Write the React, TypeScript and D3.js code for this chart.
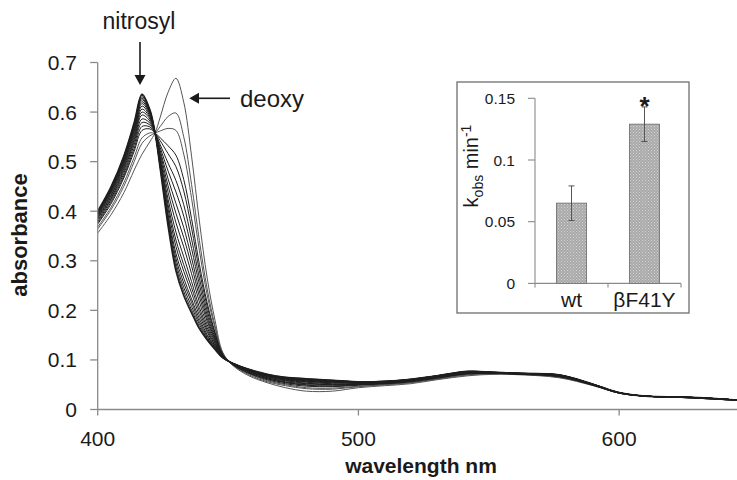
import React from "react";
import * as d3 from "d3";

// wavelength grid (nm) shared by all scans
const wavelengths = [400, 405, 410, 414, 417, 420, 422, 424, 427, 430, 433, 436, 439, 442, 445, 448, 452, 458, 465, 472, 480, 490, 500, 510, 520, 530, 542, 552, 562, 577, 590, 600, 610, 625, 640, 650];

// absorbance readings, first scan (deoxy) to last scan (nitrosyl)
const deoxy = [0.356, 0.392, 0.437, 0.483, 0.515, 0.540, 0.558, 0.590, 0.640, 0.668, 0.620, 0.511, 0.380, 0.265, 0.180, 0.115, 0.088, 0.068, 0.054, 0.044, 0.037, 0.037, 0.044, 0.048, 0.052, 0.060, 0.068, 0.071, 0.070, 0.064, 0.048, 0.033, 0.027, 0.024, 0.020, 0.017];
const scan02 = [0.364, 0.402, 0.450, 0.500, 0.537, 0.552, 0.558, 0.571, 0.591, 0.598, 0.550, 0.454, 0.341, 0.243, 0.169, 0.113, 0.089, 0.070, 0.056, 0.048, 0.042, 0.041, 0.046, 0.050, 0.054, 0.061, 0.070, 0.072, 0.071, 0.065, 0.049, 0.033, 0.027, 0.024, 0.020, 0.017];
const scan03 = [0.368, 0.407, 0.457, 0.509, 0.548, 0.558, 0.558, 0.562, 0.567, 0.563, 0.515, 0.426, 0.321, 0.231, 0.164, 0.112, 0.089, 0.072, 0.058, 0.050, 0.044, 0.043, 0.047, 0.050, 0.054, 0.062, 0.070, 0.072, 0.071, 0.066, 0.049, 0.033, 0.027, 0.024, 0.020, 0.017];
const scan04 = [0.374, 0.414, 0.467, 0.521, 0.563, 0.566, 0.558, 0.548, 0.532, 0.513, 0.464, 0.385, 0.293, 0.215, 0.156, 0.111, 0.090, 0.073, 0.060, 0.052, 0.047, 0.046, 0.049, 0.052, 0.056, 0.063, 0.072, 0.073, 0.071, 0.066, 0.049, 0.033, 0.027, 0.024, 0.020, 0.017];
const scan05 = [0.376, 0.418, 0.471, 0.527, 0.571, 0.570, 0.558, 0.542, 0.516, 0.490, 0.441, 0.366, 0.280, 0.208, 0.153, 0.110, 0.090, 0.074, 0.062, 0.054, 0.049, 0.047, 0.050, 0.052, 0.056, 0.064, 0.072, 0.073, 0.071, 0.067, 0.049, 0.033, 0.027, 0.024, 0.020, 0.017];
const scan06 = [0.379, 0.422, 0.476, 0.534, 0.579, 0.574, 0.558, 0.534, 0.497, 0.462, 0.413, 0.344, 0.265, 0.199, 0.149, 0.109, 0.091, 0.075, 0.062, 0.055, 0.050, 0.049, 0.050, 0.053, 0.057, 0.064, 0.073, 0.073, 0.072, 0.067, 0.050, 0.034, 0.027, 0.025, 0.021, 0.017];
const scan07 = [0.382, 0.425, 0.481, 0.540, 0.586, 0.578, 0.558, 0.528, 0.481, 0.439, 0.390, 0.325, 0.252, 0.191, 0.145, 0.109, 0.091, 0.076, 0.064, 0.056, 0.052, 0.050, 0.051, 0.053, 0.057, 0.065, 0.073, 0.073, 0.072, 0.068, 0.050, 0.034, 0.027, 0.025, 0.021, 0.017];
const scan08 = [0.385, 0.428, 0.485, 0.545, 0.594, 0.582, 0.558, 0.522, 0.465, 0.416, 0.367, 0.306, 0.239, 0.184, 0.142, 0.108, 0.091, 0.077, 0.064, 0.058, 0.053, 0.051, 0.052, 0.054, 0.058, 0.065, 0.074, 0.074, 0.072, 0.068, 0.050, 0.034, 0.027, 0.025, 0.021, 0.017];
const scan09 = [0.387, 0.431, 0.489, 0.550, 0.600, 0.586, 0.558, 0.517, 0.451, 0.396, 0.347, 0.290, 0.228, 0.178, 0.139, 0.107, 0.092, 0.077, 0.066, 0.059, 0.055, 0.052, 0.052, 0.054, 0.058, 0.066, 0.074, 0.074, 0.072, 0.068, 0.050, 0.034, 0.027, 0.025, 0.021, 0.017];
const scan10 = [0.389, 0.434, 0.493, 0.555, 0.606, 0.589, 0.558, 0.511, 0.438, 0.377, 0.328, 0.274, 0.217, 0.171, 0.136, 0.107, 0.092, 0.078, 0.066, 0.060, 0.056, 0.054, 0.053, 0.055, 0.059, 0.066, 0.075, 0.074, 0.072, 0.069, 0.050, 0.034, 0.027, 0.025, 0.021, 0.017];
const scan11 = [0.391, 0.437, 0.496, 0.560, 0.612, 0.592, 0.558, 0.506, 0.424, 0.358, 0.308, 0.258, 0.206, 0.165, 0.133, 0.106, 0.092, 0.078, 0.068, 0.061, 0.057, 0.055, 0.054, 0.055, 0.059, 0.066, 0.075, 0.074, 0.072, 0.069, 0.050, 0.034, 0.027, 0.025, 0.021, 0.017];
const scan12 = [0.393, 0.439, 0.499, 0.564, 0.617, 0.595, 0.558, 0.502, 0.413, 0.342, 0.292, 0.246, 0.198, 0.160, 0.130, 0.106, 0.092, 0.079, 0.067, 0.062, 0.058, 0.056, 0.054, 0.056, 0.060, 0.067, 0.076, 0.074, 0.073, 0.069, 0.051, 0.034, 0.027, 0.025, 0.021, 0.017];
const scan13 = [0.395, 0.441, 0.502, 0.567, 0.621, 0.597, 0.558, 0.498, 0.404, 0.329, 0.279, 0.235, 0.190, 0.156, 0.128, 0.105, 0.092, 0.079, 0.069, 0.062, 0.059, 0.056, 0.055, 0.056, 0.060, 0.067, 0.076, 0.075, 0.073, 0.069, 0.051, 0.034, 0.027, 0.025, 0.021, 0.017];
const scan14 = [0.396, 0.443, 0.504, 0.570, 0.625, 0.599, 0.558, 0.494, 0.394, 0.315, 0.265, 0.223, 0.183, 0.151, 0.126, 0.105, 0.093, 0.080, 0.069, 0.063, 0.060, 0.057, 0.055, 0.056, 0.060, 0.067, 0.076, 0.075, 0.073, 0.069, 0.051, 0.034, 0.027, 0.025, 0.021, 0.017];
const scan15 = [0.397, 0.444, 0.506, 0.573, 0.628, 0.601, 0.558, 0.492, 0.388, 0.305, 0.255, 0.216, 0.177, 0.148, 0.125, 0.105, 0.093, 0.080, 0.070, 0.064, 0.060, 0.058, 0.055, 0.056, 0.060, 0.068, 0.076, 0.075, 0.073, 0.070, 0.051, 0.034, 0.027, 0.025, 0.021, 0.017];
const scan16 = [0.398, 0.446, 0.508, 0.575, 0.631, 0.602, 0.558, 0.489, 0.381, 0.296, 0.246, 0.208, 0.172, 0.145, 0.123, 0.104, 0.093, 0.081, 0.069, 0.064, 0.061, 0.058, 0.056, 0.057, 0.061, 0.068, 0.077, 0.075, 0.073, 0.070, 0.051, 0.034, 0.027, 0.025, 0.021, 0.017];
const scan17 = [0.399, 0.447, 0.510, 0.577, 0.634, 0.604, 0.558, 0.487, 0.375, 0.288, 0.238, 0.201, 0.167, 0.143, 0.122, 0.104, 0.093, 0.081, 0.071, 0.065, 0.062, 0.059, 0.056, 0.057, 0.061, 0.068, 0.077, 0.075, 0.073, 0.070, 0.051, 0.034, 0.027, 0.025, 0.021, 0.017];
const nitrosyl = [0.400, 0.448, 0.511, 0.579, 0.636, 0.605, 0.558, 0.485, 0.370, 0.280, 0.230, 0.195, 0.163, 0.140, 0.121, 0.104, 0.093, 0.081, 0.071, 0.065, 0.062, 0.059, 0.056, 0.057, 0.061, 0.068, 0.077, 0.075, 0.073, 0.070, 0.051, 0.034, 0.027, 0.025, 0.021, 0.017];

const scans = [deoxy, scan02, scan03, scan04, scan05, scan06, scan07, scan08, scan09, scan10, scan11, scan12, scan13, scan14, scan15, scan16, scan17, nitrosyl];

const xTicks = [400, 500, 600];
const yTicks = [0, 0.1, 0.2, 0.3, 0.4, 0.5, 0.6, 0.7];

// inset: rate constants
const insetCategories = ["wt", "βF41Y"];
const insetValues = [0.065, 0.129];
const insetErrors = [0.014, 0.014];
const insetTicks = [0, 0.05, 0.1, 0.15];

const FONT = "'Liberation Sans', Arial, Helvetica, sans-serif";
const AXIS = "#8a8a8a";
const INK = "#1a1a1a";

export default function App() {
  const W = 737;
  const H = 480;

  const x = d3.scaleLinear().domain([400, 650]).range([97.7, 749.5]);
  const y = d3.scaleLinear().domain([0, 0.7]).range([409.5, 62.5]);

  const line = d3
    .line<number>()
    .x((_, i) => x(wavelengths[i]))
    .y((d) => y(d))
    .curve(d3.curveCatmullRom.alpha(0.5));

  // inset scales
  const ix = d3.scaleBand<string>().domain(insetCategories).range([535, 681]).paddingInner(0.59).paddingOuter(0.295);
  const iy = d3.scaleLinear().domain([0, 0.15]).range([283.4, 98.3]);

  return (
    <svg width={W} height={H} style={{ position: "absolute", left: 0, top: 0, background: "#fff" }} fontFamily={FONT}>
      <defs>
        <pattern id="hatch" width="3" height="3" patternUnits="userSpaceOnUse">
          <rect width="3" height="3" fill="#a9a9a9" />
          <rect x="0" y="0" width="1" height="1" fill="#d4d4d4" />
          <rect x="1.5" y="1.5" width="1" height="1" fill="#cfcfcf" />
        </pattern>
      </defs>
      <rect width={W} height={H} fill="#fff" />

      {/* spectra */}
      <g fill="none">
        {scans.map((s, i) => (
          <path
            key={i}
            d={line(s) || ""}
            stroke={i < 3 ? "#555" : "#1e1e1e"}
            strokeWidth={i === scans.length - 1 ? 1.6 : 1}
          />
        ))}
      </g>

      {/* y axis */}
      <line x1={x(400)} x2={x(400)} y1={y(0.7)} y2={y(0)} stroke={AXIS} strokeWidth={1.3} />
      {yTicks.map((t) => (
        <g key={t}>
          <line x1={x(400) - 7.5} x2={x(400)} y1={y(t)} y2={y(t)} stroke={AXIS} strokeWidth={1.3} />
          <text x={77} y={y(t)} dy="0.36em" textAnchor="end" fontSize={21} fill={INK}>
            {t === 0 ? "0" : d3.format(".1f")(t)}
          </text>
        </g>
      ))}

      {/* x axis */}
      <line x1={x(400)} x2={W} y1={y(0)} y2={y(0)} stroke={AXIS} strokeWidth={1.3} />
      {xTicks.map((t) => (
        <g key={t}>
          <line x1={x(t)} x2={x(t)} y1={y(0)} y2={y(0) + 6} stroke={AXIS} strokeWidth={1.3} />
          <text x={x(t)} y={446} textAnchor="middle" fontSize={21} fill={INK}>
            {t}
          </text>
        </g>
      ))}

      <text x={421} y={473} textAnchor="middle" fontSize={21} fontWeight="bold" fill={INK}>
        wavelength nm
      </text>
      <text transform="translate(27,235) rotate(-90)" textAnchor="middle" fontSize={22} fontWeight="bold" fill={INK}>
        absorbance
      </text>

      {/* annotations */}
      <text x={139} y={29} textAnchor="middle" fontSize={23} fill={INK}>
        nitrosyl
      </text>
      <line x1={140} x2={140} y1={42} y2={76} stroke={INK} strokeWidth={1.6} />
      <path d="M134.5,75 L145.5,75 L140,85 Z" fill={INK} />

      <text x={240} y={107} fontSize={24} fill={INK}>
        deoxy
      </text>
      <line x1={230} x2={198} y1={98.3} y2={98.3} stroke={INK} strokeWidth={1.6} />
      <path d="M199,92.8 L199,103.8 L189.3,98.3 Z" fill={INK} />

      {/* inset */}
      <rect x={457} y={82} width={232} height={231} fill="#fff" stroke="#6e6e6e" strokeWidth={1.3} />
      <line x1={535} x2={535} y1={iy(0.15)} y2={iy(0)} stroke={AXIS} strokeWidth={1.1} />
      <line x1={535} x2={681} y1={iy(0)} y2={iy(0)} stroke={AXIS} strokeWidth={1.1} />
      {insetTicks.map((t) => (
        <g key={t}>
          <line x1={528} x2={535} y1={iy(t)} y2={iy(t)} stroke={AXIS} strokeWidth={1.1} />
          <text x={515} y={iy(t)} dy="0.36em" textAnchor="end" fontSize={15.5} fill={INK}>
            {String(t)}
          </text>
        </g>
      ))}
      {[535, 535 + ix.step(), 681].map((px, i) => (
        <line key={i} x1={px} x2={px} y1={iy(0)} y2={iy(0) + 4} stroke={AXIS} strokeWidth={1.1} />
      ))}
      {insetCategories.map((c, i) => {
        const bx = ix(c) as number;
        const cx = bx + ix.bandwidth() / 2;
        const top = iy(insetValues[i] + insetErrors[i]);
        const bot = iy(insetValues[i] - insetErrors[i]);
        return (
          <g key={c}>
            <rect
              x={bx}
              y={iy(insetValues[i])}
              width={ix.bandwidth()}
              height={iy(0) - iy(insetValues[i])}
              fill="url(#hatch)"
              stroke="#7a7a7a"
              strokeWidth={1}
            />
            <line x1={cx} x2={cx} y1={top} y2={bot} stroke="#555" strokeWidth={1} />
            <line x1={cx - 3} x2={cx + 3} y1={top} y2={top} stroke="#555" strokeWidth={1} />
            <line x1={cx - 3} x2={cx + 3} y1={bot} y2={bot} stroke="#555" strokeWidth={1} />
            <text x={cx} y={307} textAnchor="middle" fontSize={21} fill={INK}>
              {c}
            </text>
          </g>
        );
      })}
      <text x={(ix("βF41Y") as number) + ix.bandwidth() / 2} y={115} textAnchor="middle" fontSize={26} fontWeight="bold" fill={INK}>
        *
      </text>
      <text transform="translate(478,166) rotate(-90)" textAnchor="middle" fontSize={20} fill={INK}>
        k<tspan dy={5} fontSize={14}>obs</tspan>
        <tspan dy={-5}> min</tspan>
        <tspan dy={-7} fontSize={14}>-1</tspan>
      </text>
    </svg>
  );
}
